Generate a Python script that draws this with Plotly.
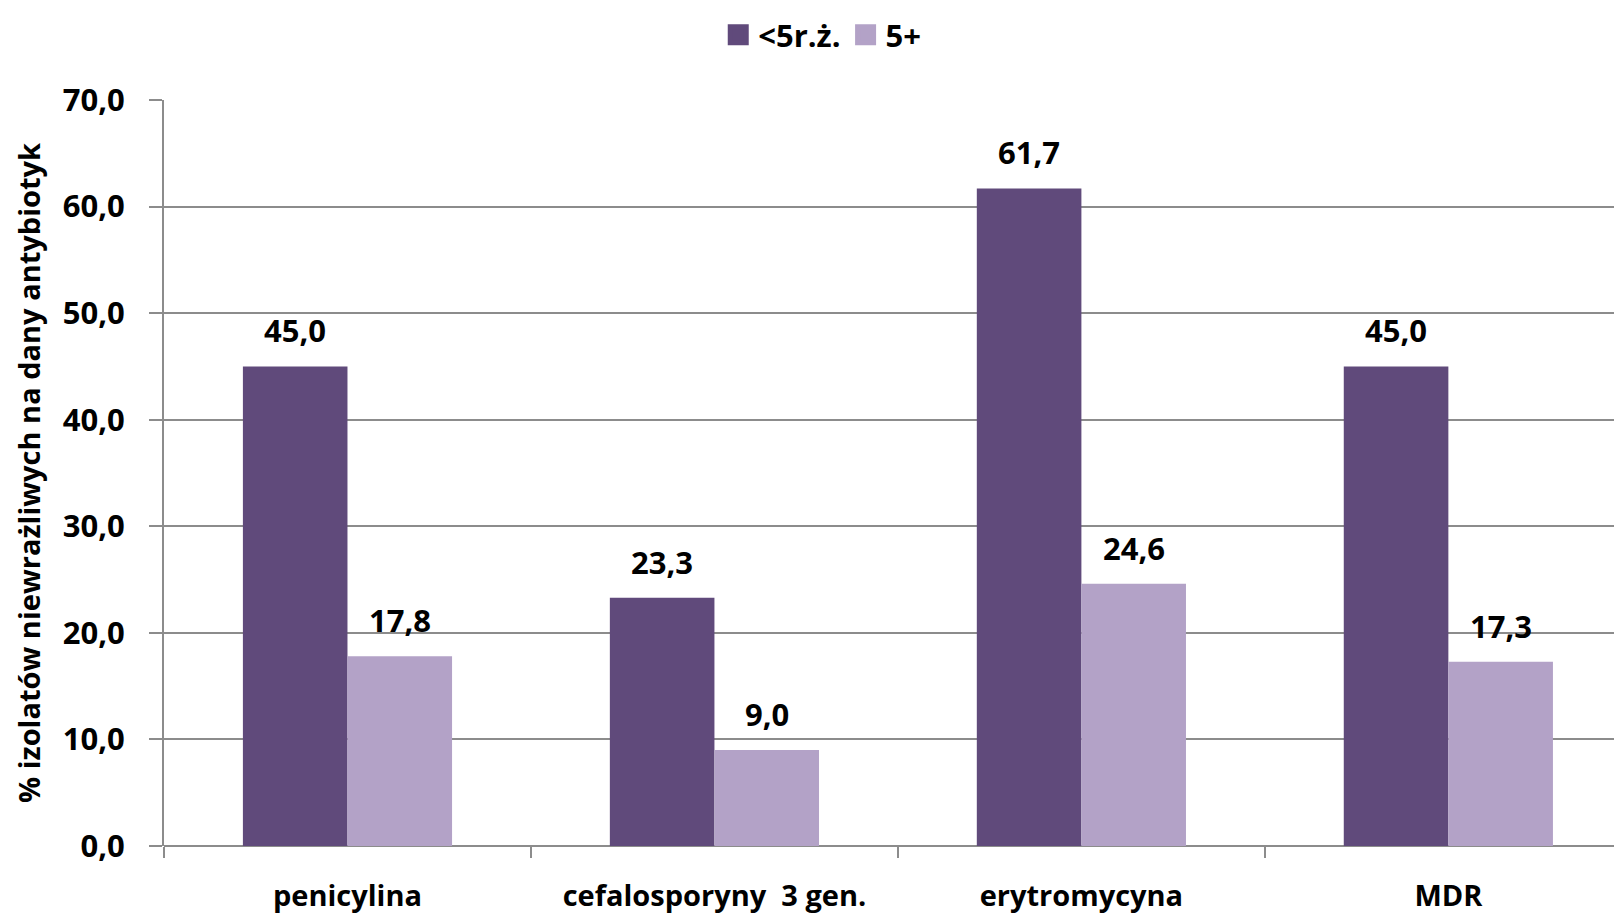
import plotly.graph_objects as go

categories = ["penicylina", "cefalosporyny  3 gen.", "erytromycyna", "MDR"]
under5 = [45.0, 23.3, 61.7, 45.0]
over5 = [17.8, 9.0, 24.6, 17.3]
series_names = ["<5r.ż.", "5+"]
y_ticks = [0, 10, 20, 30, 40, 50, 60, 70]

FONT = "Open Sans"
DARK = "#604A7B"
LIGHT = "#B3A2C7"
GRID = "#8C8C8C"
BARGAP = 0.43
CAT_PX = 367  # pixel width of one category slot

fig = go.Figure()
series = [(series_names[0], under5, DARK), (series_names[1], over5, LIGHT)]
for name, vals, col in series:
    fig.add_trace(go.Bar(
        x=categories, y=vals, name=name, showlegend=False,
        marker=dict(color=col, line=dict(width=0)),
    ))
# legend entries with larger square swatches
for name, vals, col in series:
    fig.add_trace(go.Scatter(
        x=[None], y=[None], mode="markers", name=name, showlegend=True,
        marker=dict(symbol="square", size=16, color=col, line=dict(color=col, width=5)),
    ))

# value labels above bars
bar_px = CAT_PX * (1 - BARGAP) / 2
for i, (name, vals, col) in enumerate(series):
    for c, v in zip(categories, vals):
        fig.add_annotation(
            x=c, y=v, text=f"{v:.1f}".replace(".", ","), showarrow=False,
            xshift=(i - 0.5) * bar_px, yshift=36, yanchor="middle",
            font=dict(family=FONT, size=31, color="#000000", weight="bold"),
        )

fig.update_layout(
    width=1622, height=914,
    separators=", ",
    paper_bgcolor="white", plot_bgcolor="white",
    margin=dict(l=156, r=0, t=92, b=76, autoexpand=False),
    barmode="group", bargap=BARGAP, bargroupgap=0,
    font=dict(family=FONT, size=30, color="#000000"),
    showlegend=True,
    legend=dict(orientation="h", xref="container", yref="container",
                x=0.502, y=1.0, xanchor="center", yanchor="top",
                font=dict(family=FONT, size=31, color="#000000", weight="bold"),
                itemsizing="trace", tracegroupgap=0, itemwidth=30),
    xaxis=dict(
        range=[-0.5, 3.495], showgrid=False, showline=False,
        ticks="outside", tickson="boundaries", ticklen=11, tickwidth=2, tickcolor=GRID,
        ticklabelstandoff=30,
        tickfont=dict(family=FONT, size=29, color="#000000", weight="bold"),
        zeroline=False,
    ),
    yaxis=dict(
        range=[0, 70], tickvals=y_ticks, tickformat=".1f",
        showgrid=True, gridcolor=GRID, gridwidth=2,
        showline=True, linecolor=GRID, linewidth=2,
        ticks="outside", ticklen=13, tickwidth=2, tickcolor=GRID,
        ticklabelstandoff=18,
        tickfont=dict(family=FONT, size=31, color="#000000", weight="bold"),
        zeroline=True, zerolinecolor=GRID, zerolinewidth=2,
        title=dict(text="% izolatów niewrażliwych na dany antybiotyk", standoff=14,
                   font=dict(family=FONT, size=29, color="#000000", weight="bold")),
    ),
)

fig.write_html("out.html")
